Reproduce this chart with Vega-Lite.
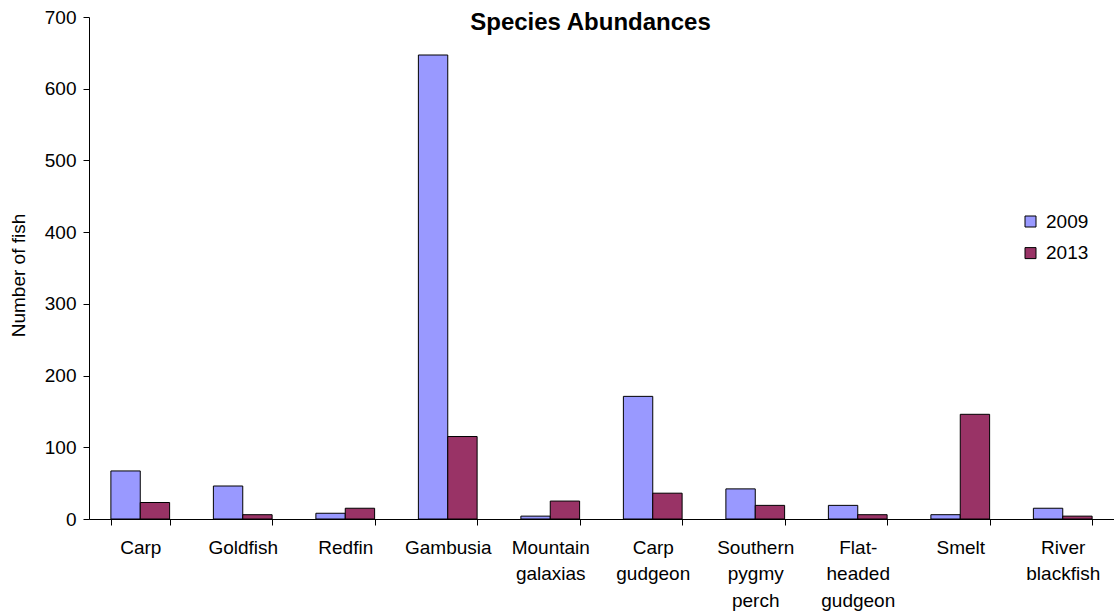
{
  "$schema": "https://vega.github.io/schema/vega-lite/v6.json",
  "width": 1025,
  "height": 502,
  "autosize": {"type": "none"},
  "padding": {"left": 89, "top": 17, "right": 0, "bottom": 95},
  "background": "white",
  "config": {
    "font": "Liberation Sans",
    "view": {"stroke": null},
    "axis": {"grid": false, "domainColor": "black", "tickColor": "black", "labelColor": "black", "titleColor": "black", "labelFont": "Liberation Sans", "titleFont": "Liberation Sans"}
  },
  "title": {
    "text": "Species Abundances",
    "font": "Liberation Sans",
    "fontSize": 24,
    "fontWeight": "bold",
    "color": "black",
    "anchor": "middle",
    "dx": -11,
    "dy": 31
  },
  "data": {
    "values": [
      {"species": "Carp", "year": "2009", "count": 67},
      {"species": "Carp", "year": "2013", "count": 23},
      {"species": "Goldfish", "year": "2009", "count": 46},
      {"species": "Goldfish", "year": "2013", "count": 6},
      {"species": "Redfin", "year": "2009", "count": 8},
      {"species": "Redfin", "year": "2013", "count": 15},
      {"species": "Gambusia", "year": "2009", "count": 647},
      {"species": "Gambusia", "year": "2013", "count": 115},
      {"species": "Mountain galaxias", "year": "2009", "count": 4},
      {"species": "Mountain galaxias", "year": "2013", "count": 25},
      {"species": "Carp gudgeon", "year": "2009", "count": 171},
      {"species": "Carp gudgeon", "year": "2013", "count": 36},
      {"species": "Southern pygmy perch", "year": "2009", "count": 42},
      {"species": "Southern pygmy perch", "year": "2013", "count": 19},
      {"species": "Flat-headed gudgeon", "year": "2009", "count": 19},
      {"species": "Flat-headed gudgeon", "year": "2013", "count": 6},
      {"species": "Smelt", "year": "2009", "count": 6},
      {"species": "Smelt", "year": "2013", "count": 146},
      {"species": "River blackfish", "year": "2009", "count": 15},
      {"species": "River blackfish", "year": "2013", "count": 4}
    ]
  },
  "mark": {"type": "bar", "stroke": "black", "strokeWidth": 1},
  "encoding": {
    "x": {
      "field": "species",
      "type": "nominal",
      "sort": null,
      "scale": {"paddingInner": 0.427, "paddingOuter": 0.2135},
      "axis": {
        "title": null,
        "labelAngle": 0,
        "labelFontSize": 19,
        "labelExpr": "isValid(datum.value) ? split(replace(datum.value, '-', '- '), ' ') : ''",
        "labelLineHeight": 26.5,
        "labelBaseline": "top",
        "labelPadding": 13,
        "tickBand": "extent",
        "tickSize": 6,
        "domainColor": "black"
      }
    },
    "xOffset": {"field": "year", "type": "nominal", "scale": {"paddingInner": 0, "paddingOuter": 0}},
    "y": {
      "field": "count",
      "type": "quantitative",
      "scale": {"domain": [0, 700], "nice": false},
      "axis": {
        "title": "Number of fish",
        "titleFontSize": 19,
        "titleFontWeight": "normal",
        "titleX": -71,
        "titleY": 258,
        "titleAngle": -90,
        "titleAlign": "center",
        "titleBaseline": "middle",
        "labelFontSize": 19,
        "values": [0, 100, 200, 300, 400, 500, 600, 700],
        "tickSize": 6,
        "labelPadding": 7
      }
    },
    "fill": {
      "field": "year",
      "type": "nominal",
      "scale": {"domain": ["2009", "2013"], "range": ["#9999FF", "#993366"]},
      "legend": {
        "title": null,
        "orient": "none",
        "legendX": 932,
        "legendY": 195,
        "symbolType": "square",
        "symbolSize": 121,
        "symbolStrokeColor": "black",
        "symbolStrokeWidth": 1,
        "labelFontSize": 19,
        "labelColor": "black",
        "labelFont": "Liberation Sans",
        "rowPadding": 11.6,
        "labelOffset": 6
      }
    }
  }
}
